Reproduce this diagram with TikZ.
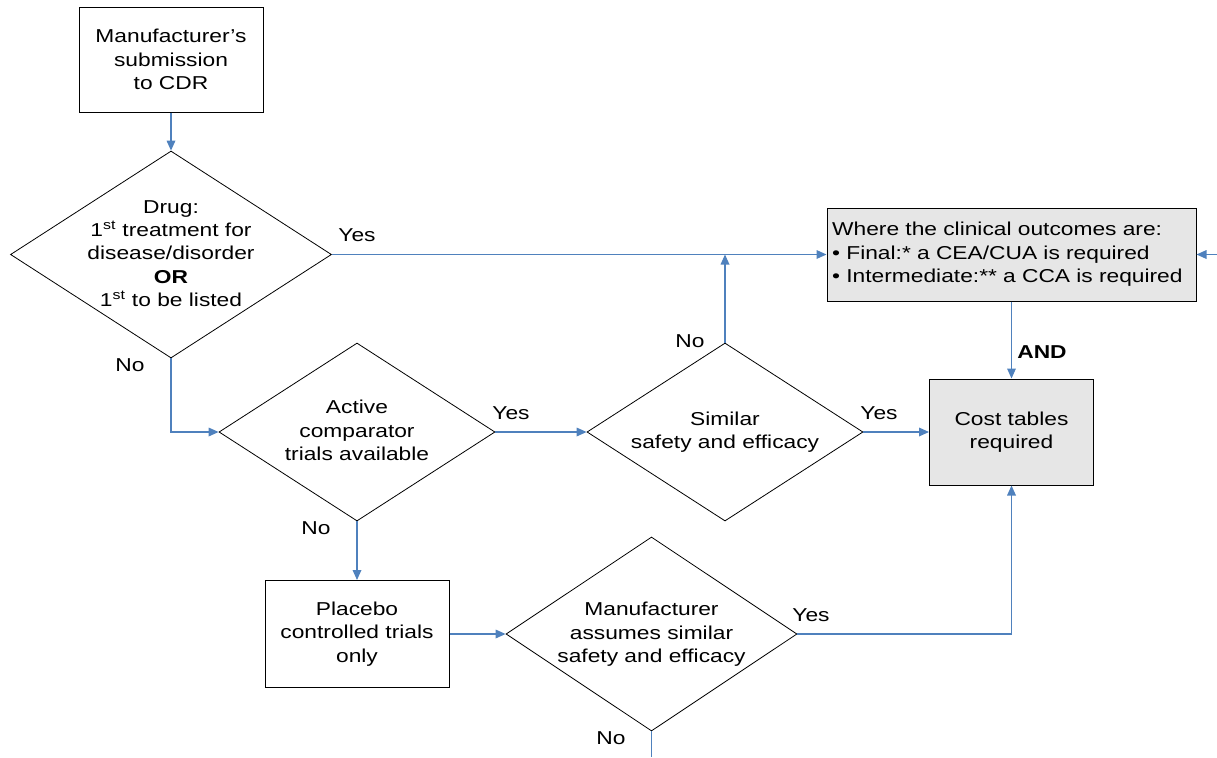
\documentclass[tikz,border=0pt]{standalone}
\usepackage{fontspec}
\setmainfont{Liberation Sans}[FakeStretch=1.22]
\usetikzlibrary{shapes.geometric,arrows.meta}
\definecolor{connblue}{RGB}{79,129,189}
\definecolor{boxgrey}{RGB}{230,230,230}
\newcommand\dtxt[1]{\smash{\makebox[0pt]{\raisebox{-4pt}{\begin{tabular}{@{}c@{}}#1\end{tabular}}}}}
\begin{document}
\begin{tikzpicture}[x=0.75pt,y=-0.75pt,
  font=\fontsize{14pt}{17.5pt}\selectfont,
  box/.style={draw=black, line width=0.75pt, rectangle, inner sep=0pt, align=center},
  greybox/.style={box, fill=boxgrey},
  dec/.style={draw=black, line width=0.6pt, diamond, inner sep=0pt},
  link/.style={draw=connblue, line width=0.9pt},
  arr/.style={link, -{Triangle[length=7.5pt,width=6.5pt]}},
  lbl/.style={inner sep=0pt}]
\useasboundingbox (0,0) rectangle (1217,757);

\node[box, minimum width=138pt, minimum height=78.75pt] (sub) at (171,59.5) {Manufacturer’s\\submission\\to CDR};
\node[dec, minimum width=240.75pt, minimum height=155.25pt] (d1) at (171,254.5)
  {\dtxt{Drug:\\1\textsuperscript{st} treatment for\\disease/disorder\\\textbf{OR}\\1\textsuperscript{st} to be listed}};
\node[greybox, minimum width=276.75pt, minimum height=69.75pt, align=left, text width=269pt, inner xsep=3.75pt] (g1) at (1011.5,254.5)
  {Where the clinical outcomes are:\\• Final:* a CEA/CUA is required\\• Intermediate:** a CCA is required};
\node[greybox, minimum width=123pt, minimum height=79.5pt] (cost) at (1011.5,432) {Cost tables\\required};
\node[dec, minimum width=207pt, minimum height=133.5pt] (d2) at (357,432) {\dtxt{Active\\comparator\\trials available}};
\node[dec, minimum width=207pt, minimum height=133.5pt] (d3) at (725,432) {\dtxt{Similar\\safety and efficacy}};
\node[box, minimum width=138pt, minimum height=80.25pt] (pl) at (357,634) {Placebo\\controlled trials\\only};
\node[dec, minimum width=218.25pt, minimum height=145.5pt] (d4) at (651.5,634) {\dtxt{Manufacturer\\assumes similar\\safety and efficacy}};

\coordinate (rin) at (1217,254.5);
\coordinate (bot) at (651.5,757);

\draw[arr] (sub.south) -- (d1.north);
\draw[arr] (d1.east) -- (g1.west);
\draw[arr] (rin) -- (g1.east);
\draw[arr] (g1.south) -- (cost.north);
\draw[arr] (d1.south) |- (d2.west);
\draw[arr] (d2.east) -- (d3.west);
\draw[arr] (d3.north) -- (d3.north |- d1.east);
\draw[arr] (d3.east) -- (cost.west);
\draw[arr] (d2.south) -- (pl.north);
\draw[arr] (pl.east) -- (d4.west);
\draw[arr] (d4.east) -| (cost.south);
\draw[link] (d4.south) -- (bot);

\node[lbl] (l1) at (357,235) {Yes};
\node[lbl] (l2) at (130,365) {No};
\node[lbl] (l3) at (511,413) {Yes};
\node[lbl] (l4) at (690,341) {No};
\node[lbl] (l5) at (879,413) {Yes};
\node[lbl] (l6) at (1042,352) {\textbf{AND}};
\node[lbl] (l7) at (316,528) {No};
\node[lbl] (l8) at (811,615) {Yes};
\node[lbl] (l9) at (611,738) {No};
\end{tikzpicture}
\end{document}
